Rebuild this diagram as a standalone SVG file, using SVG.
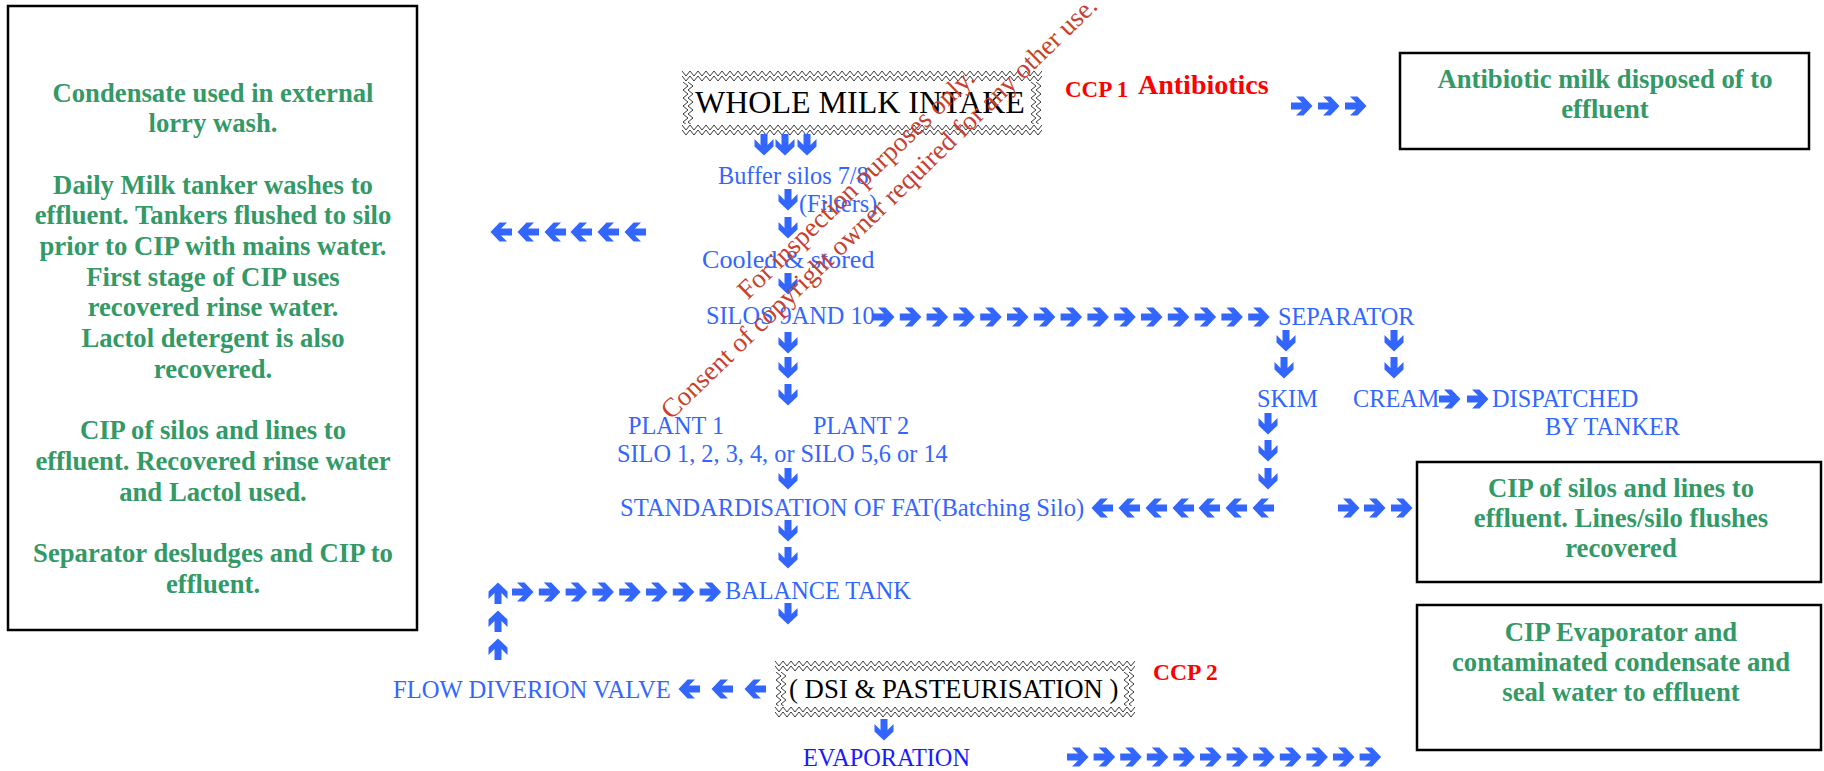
<svg xmlns="http://www.w3.org/2000/svg" xmlns:xlink="http://www.w3.org/1999/xlink" width="1824" height="771" viewBox="0 0 1824 771">
<style>
.g{font-family:"Liberation Serif","Times New Roman",serif;font-weight:bold;font-size:26.7px;fill:#339966;text-anchor:middle}
.b{font-family:"Liberation Serif","Times New Roman",serif;font-size:24.3px;fill:#3366FF}
.k{font-family:"Liberation Serif","Times New Roman",serif;fill:#000}
.r{font-family:"Liberation Serif","Times New Roman",serif;font-weight:bold;fill:#FF0000}
.box{fill:#fff;stroke:#000;stroke-width:2.5}
.wm{font-family:"Liberation Serif","Times New Roman",serif;font-size:27px;fill:#C8412F;text-anchor:middle}
.zz{fill:none;stroke:#222;stroke-width:0.9}
</style>
<defs>
<path id="ar" d="M-11,-3.5 H0 L-6,-9.5 H1.5 L10.5,0 L1.5,9.5 H-6 L0,3.5 H-11 Z" fill="#3366FF"/>
<use id="al" xlink:href="#ar" transform="rotate(180)"/>
<use id="ad" xlink:href="#ar" transform="rotate(90)"/>
<use id="au" xlink:href="#ar" transform="rotate(-90)"/>
<pattern id="zzH" patternUnits="userSpaceOnUse" width="8" height="12">
<polyline class="zz" points="0,1 4,6 8,1"/>
<polyline class="zz" points="0,6 4,11 8,6"/>
</pattern>
<pattern id="zzV" patternUnits="userSpaceOnUse" width="12" height="8">
<polyline class="zz" points="1,0 6,4 1,8"/>
<polyline class="zz" points="6,0 11,4 6,8"/>
</pattern>
</defs>
<rect width="1824" height="771" fill="#fff"/>

<g id="notes-left">
<rect class="box" x="8" y="6" width="409" height="624"/>
<text class="g" x="213" y="101.5">Condensate used in external</text>
<text class="g" x="213" y="132.2">lorry wash.</text>
<text class="g" x="213" y="193.6">Daily Milk tanker washes to</text>
<text class="g" x="213" y="224.3">effluent. Tankers flushed to silo</text>
<text class="g" x="213" y="255">prior to CIP with mains water.</text>
<text class="g" x="213" y="285.7">First stage of CIP uses</text>
<text class="g" x="213" y="316.4">recovered rinse water.</text>
<text class="g" x="213" y="347.1">Lactol detergent is also</text>
<text class="g" x="213" y="377.8">recovered.</text>
<text class="g" x="213" y="439.2">CIP of silos and lines to</text>
<text class="g" x="213" y="469.9">effluent. Recovered rinse water</text>
<text class="g" x="213" y="500.6">and Lactol used.</text>
<text class="g" x="213" y="562">Separator desludges and CIP to</text>
<text class="g" x="213" y="592.7">effluent.</text>
</g>

<g id="antibiotic-box">
<rect class="box" x="1400" y="53" width="409" height="96"/>
<text class="g" x="1605" y="88">Antibiotic milk disposed of to</text>
<text class="g" x="1605" y="118">effluent</text>
</g>

<g id="cip-box-1">
<rect class="box" x="1417" y="462" width="404" height="120"/>
<text class="g" x="1621" y="497">CIP of silos and lines to</text>
<text class="g" x="1621" y="527">effluent. Lines/silo flushes</text>
<text class="g" x="1621" y="557">recovered</text>
</g>

<g id="cip-box-2">
<rect class="box" x="1417" y="605" width="404" height="145"/>
<text class="g" x="1621" y="641">CIP Evaporator and</text>
<text class="g" x="1621" y="671">contaminated condensate and</text>
<text class="g" x="1621" y="701">seal water to effluent</text>
</g>

<g id="whole-milk-intake">
<g transform="translate(682,70)"><rect width="360" height="12" fill="url(#zzH)"/></g>
<g transform="translate(682,124)"><rect width="360" height="12" fill="url(#zzH)"/></g>
<g transform="translate(682,82)"><rect width="12" height="42" fill="url(#zzV)"/></g>
<g transform="translate(1030,82)"><rect width="12" height="42" fill="url(#zzV)"/></g>
<text class="k" x="695" y="113" font-size="32">WHOLE MILK INTAKE</text>
</g>

<g id="ccp1">
<text class="r" x="1065" y="97" font-size="23">CCP 1</text>
<text class="r" x="1138" y="94" font-size="28">Antibiotics</text>
</g>

<g id="dsi-pasteurisation">
<g transform="translate(775,660)"><rect width="360" height="12" fill="url(#zzH)"/></g>
<g transform="translate(775,706)"><rect width="360" height="12" fill="url(#zzH)"/></g>
<g transform="translate(775,672)"><rect width="12" height="34" fill="url(#zzV)"/></g>
<g transform="translate(1123,672)"><rect width="12" height="34" fill="url(#zzV)"/></g>
<text class="k" x="789" y="698" font-size="26.8">( DSI &amp; PASTEURISATION )</text>
</g>

<g id="ccp2"><text class="r" x="1153" y="680" font-size="23.5">CCP 2</text></g>

<g id="buffer-silos"><text class="b" x="718" y="184">Buffer silos 7/8</text></g>
<g id="filters"><text class="b" x="799" y="212">(Filters)</text></g>
<g id="cooled-stored"><text class="b" x="702" y="268" style="font-size:26.1px">Cooled &amp; stored</text></g>
<g id="silos-9-10"><text class="b" x="706" y="324">SILOS 9AND 10</text></g>
<g id="separator"><text class="b" x="1278" y="325">SEPARATOR</text></g>
<g id="skim"><text class="b" x="1257" y="407">SKIM</text></g>
<g id="cream"><text class="b" x="1353" y="407">CREAM</text></g>
<g id="dispatched"><text class="b" x="1492" y="407">DISPATCHED</text><text class="b" x="1545" y="435">BY TANKER</text></g>
<g id="plants">
<text class="b" x="628" y="434">PLANT 1</text>
<text class="b" x="813" y="434">PLANT 2</text>
<text class="b" x="617" y="462">SILO 1, 2, 3, 4, or SILO 5,6 or 14</text>
</g>
<g id="standardisation"><text class="b" x="620" y="516" style="font-size:24.6px">STANDARDISATION OF FAT(Batching Silo)</text></g>
<g id="balance-tank"><text class="b" x="725" y="599">BALANCE TANK</text></g>
<g id="flow-diversion"><text class="b" x="393" y="698" style="font-size:24.6px">FLOW DIVERION VALVE</text></g>
<g id="evaporation"><text class="b" x="803" y="766" style="fill:#1A1AFF">EVAPORATION</text></g>

<g id="connectors">
<use xlink:href="#ad" x="764" y="145"/><use xlink:href="#ad" x="785" y="145"/><use xlink:href="#ad" x="807" y="145"/>
<use xlink:href="#ad" x="788" y="200"/><use xlink:href="#ad" x="788" y="228"/><use xlink:href="#ad" x="788" y="284"/>
<use xlink:href="#ad" x="788" y="343"/><use xlink:href="#ad" x="788" y="368"/><use xlink:href="#ad" x="788" y="395"/>
<use xlink:href="#ad" x="788" y="479"/>
<use xlink:href="#ad" x="788" y="531"/><use xlink:href="#ad" x="788" y="558"/>
<use xlink:href="#ad" x="788" y="614"/>
<use xlink:href="#ad" x="884" y="730"/>
<use xlink:href="#ad" x="1286" y="341"/><use xlink:href="#ad" x="1284" y="368"/>
<use xlink:href="#ad" x="1394" y="341"/><use xlink:href="#ad" x="1394" y="368"/>
<use xlink:href="#ad" x="1268" y="424"/><use xlink:href="#ad" x="1268" y="451"/><use xlink:href="#ad" x="1268" y="479"/>
<use xlink:href="#au" x="498" y="593"/><use xlink:href="#au" x="498" y="621"/><use xlink:href="#au" x="498" y="649"/>
<use xlink:href="#al" x="501" y="232"/><use xlink:href="#al" x="528" y="232"/><use xlink:href="#al" x="555" y="232"/>
<use xlink:href="#al" x="581" y="232"/><use xlink:href="#al" x="608" y="232"/><use xlink:href="#al" x="635" y="232"/>
<use xlink:href="#ar" x="1302" y="106"/><use xlink:href="#ar" x="1329" y="106"/><use xlink:href="#ar" x="1356" y="106"/>
<use xlink:href="#ar" x="884" y="317"/><use xlink:href="#ar" x="910.8" y="317"/><use xlink:href="#ar" x="937.6" y="317"/>
<use xlink:href="#ar" x="964.4" y="317"/><use xlink:href="#ar" x="991.2" y="317"/><use xlink:href="#ar" x="1018" y="317"/>
<use xlink:href="#ar" x="1044.8" y="317"/><use xlink:href="#ar" x="1071.6" y="317"/><use xlink:href="#ar" x="1098.4" y="317"/>
<use xlink:href="#ar" x="1125.2" y="317"/><use xlink:href="#ar" x="1152" y="317"/><use xlink:href="#ar" x="1178.8" y="317"/>
<use xlink:href="#ar" x="1205.6" y="317"/><use xlink:href="#ar" x="1232.4" y="317"/><use xlink:href="#ar" x="1259.2" y="317"/>
<use xlink:href="#ar" x="1450" y="399"/><use xlink:href="#ar" x="1478" y="399"/>
<use xlink:href="#al" x="1102" y="508"/><use xlink:href="#al" x="1129" y="508"/><use xlink:href="#al" x="1156" y="508"/>
<use xlink:href="#al" x="1183" y="508"/><use xlink:href="#al" x="1209" y="508"/><use xlink:href="#al" x="1236" y="508"/>
<use xlink:href="#al" x="1263" y="508"/>
<use xlink:href="#ar" x="1349" y="508"/><use xlink:href="#ar" x="1375" y="508"/><use xlink:href="#ar" x="1402" y="508"/>
<use xlink:href="#ar" x="523" y="592"/><use xlink:href="#ar" x="549.8" y="592"/><use xlink:href="#ar" x="576.6" y="592"/>
<use xlink:href="#ar" x="603.4" y="592"/><use xlink:href="#ar" x="630.2" y="592"/><use xlink:href="#ar" x="657" y="592"/>
<use xlink:href="#ar" x="683.8" y="592"/><use xlink:href="#ar" x="710.6" y="592"/>
<use xlink:href="#al" x="689" y="689"/><use xlink:href="#al" x="722" y="689"/><use xlink:href="#al" x="755" y="689"/>
<use xlink:href="#ar" x="1078" y="757"/><use xlink:href="#ar" x="1104.6" y="757"/><use xlink:href="#ar" x="1131.2" y="757"/>
<use xlink:href="#ar" x="1157.8" y="757"/><use xlink:href="#ar" x="1184.4" y="757"/><use xlink:href="#ar" x="1211" y="757"/>
<use xlink:href="#ar" x="1237.6" y="757"/><use xlink:href="#ar" x="1264.2" y="757"/><use xlink:href="#ar" x="1290.8" y="757"/>
<use xlink:href="#ar" x="1317.4" y="757"/><use xlink:href="#ar" x="1344" y="757"/><use xlink:href="#ar" x="1370.6" y="757"/>
</g>

<g id="watermark" transform="translate(885,214) rotate(-44)">
<text class="wm" x="0" y="-33">For inspection purposes only.</text>
<text class="wm" x="0" y="0">Consent of copyright owner required for any other use.</text>
</g>
</svg>
